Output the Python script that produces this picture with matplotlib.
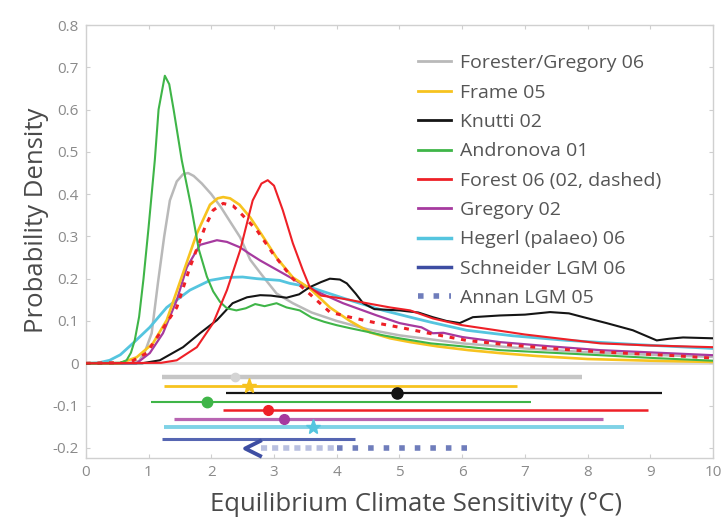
import matplotlib
matplotlib.use("Agg")
import matplotlib.pyplot as plt
from matplotlib.lines import Line2D
from matplotlib.ticker import FuncFormatter

plt.rcParams["font.family"] = ["Open Sans", "DejaVu Sans"]
plt.rcParams["axes.unicode_minus"] = False

# ---- PDF curves (climate sensitivity, probability density) ----
andronova_x = [0, 0.55, 0.65, 0.72, 0.78, 0.85, 0.92, 1.0, 1.05, 1.1, 1.16, 1.26, 1.33, 1.40, 1.53,
               1.68, 1.8, 1.93, 2.03, 2.14, 2.25, 2.4, 2.55, 2.7, 2.85, 3.04, 3.2, 3.41, 3.6, 3.8,
               4.0, 4.21, 4.5, 4.74, 5.0, 5.5, 6.0, 6.6, 7.4, 8.2, 9.1, 10]
andronova_y = [0, 0.001, 0.007, 0.025, 0.054, 0.11, 0.2, 0.32, 0.4, 0.48, 0.6, 0.68, 0.66, 0.6, 0.48,
               0.37, 0.27, 0.205, 0.17, 0.145, 0.13, 0.125, 0.13, 0.14, 0.135, 0.142, 0.132, 0.125, 0.108, 0.098,
               0.09, 0.083, 0.074, 0.066, 0.059, 0.047, 0.04, 0.031, 0.025, 0.019, 0.012, 0.006]

forster_x = [0, 0.7, 0.85, 0.95, 1.05, 1.15, 1.25, 1.34, 1.45, 1.55, 1.63, 1.72, 1.85, 2.0, 2.15,
             2.3, 2.46, 2.62, 2.8, 3.04, 3.3, 3.6, 4.0, 4.5, 5.0, 6.0, 7.0, 8.0, 9.0, 10]
forster_y = [0, 0.001, 0.005, 0.03, 0.071, 0.19, 0.3, 0.385, 0.43, 0.447, 0.45, 0.443, 0.425, 0.40, 0.37,
             0.335, 0.298, 0.245, 0.21, 0.165, 0.142, 0.12, 0.10, 0.08, 0.066, 0.047, 0.035, 0.026, 0.02, 0.015]

frame_x = [0, 0.54, 0.81, 1.07, 1.29, 1.55, 1.77, 1.98, 2.1, 2.19, 2.3, 2.45, 2.62, 2.8, 3.04,
           3.3, 3.57, 3.89, 4.21, 4.53, 4.85, 5.17, 5.6, 6.1, 6.6, 7.2, 8.0, 9.0, 10]
frame_y = [0, 0.0, 0.014, 0.047, 0.102, 0.213, 0.307, 0.375, 0.39, 0.393, 0.39, 0.375, 0.345, 0.305, 0.25,
           0.203, 0.177, 0.132, 0.10, 0.073, 0.059, 0.05, 0.04, 0.031, 0.024, 0.017, 0.01, 0.006, 0.003]

forest02_x = [0, 0.7, 0.97, 1.18, 1.45, 1.66, 1.9, 2.03, 2.19, 2.35, 2.5, 2.73, 2.98, 3.3, 3.68,
              3.89, 4.21, 4.64, 5.0, 5.5, 6.07, 6.7, 7.4, 8.3, 9.27, 10]
forest02_y = [0, 0.002, 0.024, 0.071, 0.132, 0.227, 0.322, 0.362, 0.378, 0.372, 0.35, 0.314, 0.26, 0.2, 0.149,
              0.121, 0.109, 0.095, 0.085, 0.07, 0.054, 0.044, 0.035, 0.026, 0.019, 0.012]

forest06_x = [0, 1.2, 1.45, 1.77, 2.03, 2.25, 2.46, 2.66, 2.8, 2.9, 3.0, 3.14, 3.3, 3.46, 3.57,
              3.75, 4.0, 4.2, 4.48, 4.85, 5.17, 5.53, 6.0, 7.0, 8.2, 9.0, 10]
forest06_y = [0, 0.001, 0.007, 0.038, 0.095, 0.173, 0.267, 0.385, 0.425, 0.433, 0.42, 0.362, 0.284, 0.22, 0.18,
              0.16, 0.155, 0.15, 0.142, 0.132, 0.125, 0.106, 0.09, 0.068, 0.047, 0.042, 0.038]

knutti_x = [0, 0.9, 1.18, 1.55, 1.82, 2.09, 2.34, 2.57, 2.78, 2.95, 3.2, 3.4, 3.57, 3.75, 3.89,
            4.05, 4.16, 4.3, 4.42, 4.6, 5.0, 5.3, 5.53, 5.75, 5.96, 6.17, 6.6, 7.0, 7.4, 7.7,
            7.93, 8.3, 8.72, 9.1, 9.3, 9.52, 10]
knutti_y = [0, 0.0, 0.007, 0.038, 0.071, 0.102, 0.142, 0.156, 0.161, 0.16, 0.155, 0.163, 0.18, 0.192, 0.2,
            0.198, 0.189, 0.165, 0.142, 0.128, 0.125, 0.12, 0.109, 0.1, 0.095, 0.109, 0.113, 0.115, 0.121, 0.118,
            0.109, 0.095, 0.078, 0.054, 0.058, 0.061, 0.059]

gregory_x = [0, 0.81, 1.02, 1.23, 1.45, 1.61, 1.82, 2.09, 2.25, 2.46, 2.62, 2.78, 3.14, 3.57, 4.1,
             4.64, 5.0, 5.17, 5.35, 5.53, 5.7, 6.0, 6.6, 7.4, 8.2, 9.1, 10]
gregory_y = [0, 0.0, 0.024, 0.071, 0.149, 0.227, 0.28, 0.291, 0.287, 0.274, 0.258, 0.243, 0.213, 0.177, 0.142,
             0.113, 0.095, 0.09, 0.085, 0.071, 0.072, 0.062, 0.05, 0.04, 0.031, 0.025, 0.019]

hegerl_x = [0, 0.2, 0.38, 0.55, 0.75, 1.02, 1.29, 1.66, 1.98, 2.25, 2.5, 2.73, 3.09, 3.25, 3.57,
            4.21, 4.74, 5.17, 5.5, 6.07, 6.8, 7.67, 8.8, 10]
hegerl_y = [0, 0.001, 0.007, 0.02, 0.047, 0.085, 0.132, 0.173, 0.196, 0.203, 0.204, 0.2, 0.196, 0.189, 0.18,
            0.149, 0.125, 0.109, 0.097, 0.078, 0.065, 0.054, 0.044, 0.035]

# ---- 5-95% ranges and best estimates ----
range_names = ["Forester/Gregory 06", "Frame 05", "Knutti 02", "Andronova 01", "Forest 06",
               "Gregory 02", "Hegerl (palaeo) 06", "Schneider LGM 06"]
range_lo = [1.21, 1.24, 2.23, 1.04, 2.19, 1.40, 1.24, 1.21]
range_hi = [7.91, 6.87, 9.19, 7.10, 8.96, 8.25, 8.58, 4.29]
range_best = [2.38, 2.60, 4.96, 1.93, 2.90, 3.16, 3.62, 2.66]
annan_lo = 2.8
annan_mid = 4.0
annan_hi = 6.2

legend_labels = ["Forester/Gregory 06", "Frame 05", "Knutti 02", "Andronova 01",
                 "Forest 06 (02, dashed)", "Gregory 02", "Hegerl (palaeo) 06",
                 "Schneider LGM 06", "Annan LGM 05"]

GRAY = "#b9b9b9"
YELLOW = "#f7c31f"
BLACK = "#151515"
GREEN = "#3fb548"
RED = "#ee2027"
PURPLE = "#a63a9f"
CYAN = "#55c5df"
BLUE = "#3d4da2"
ANNAN = "#6f7dbb"


def main():
    fig = plt.figure(figsize=(7.27, 5.21), dpi=100)
    ax = fig.add_axes([0.118, 0.121, 0.863, 0.831])

    ax.axhline(0, color="#d8d8d8", lw=2.0, zorder=1)

    ax.plot(forster_x, forster_y, color=GRAY, lw=1.8, zorder=2)
    ax.plot(hegerl_x, hegerl_y, color=CYAN, lw=2.0, zorder=3)
    ax.plot(gregory_x, gregory_y, color=PURPLE, lw=1.6, zorder=3)
    ax.plot(frame_x, frame_y, color=YELLOW, lw=1.9, zorder=3)
    ax.plot(forest02_x, forest02_y, color=RED, lw=2.2, ls=(0, (1.6, 2.2)), zorder=4)
    ax.plot(knutti_x, knutti_y, color=BLACK, lw=1.5, zorder=4)
    ax.plot(andronova_x, andronova_y, color=GREEN, lw=1.5, zorder=4)
    ax.plot(forest06_x, forest06_y, color=RED, lw=1.5, zorder=4)

    # range bars below zero
    row_y = [-0.033, -0.054, -0.071, -0.092, -0.111, -0.132, -0.151, -0.180]
    bar_col = ["#c6c6c6", YELLOW, BLACK, GREEN, RED, "#b865b2", "#7fd2e6", "#5666b2"]
    bar_lw = [3.2, 2.0, 1.6, 1.5, 1.8, 2.3, 2.8, 2.2]
    mk = ["o", "*", "o", "o", "o", "o", "*", None]
    mk_col = ["#d4d4d4", YELLOW, BLACK, GREEN, RED, PURPLE, CYAN, BLUE]
    mk_size = [6, 11, 8, 7.5, 7, 7, 11, 0]
    for i in range(len(range_lo)):
        ax.plot([range_lo[i], range_hi[i]], [row_y[i], row_y[i]], color=bar_col[i],
                lw=bar_lw[i], solid_capstyle="butt", zorder=5)
        if mk[i]:
            ax.plot(range_best[i], row_y[i], marker=mk[i], ms=mk_size[i], color=mk_col[i],
                    mec=mk_col[i], zorder=6)

    y_annan = -0.201
    ax.plot([annan_lo, annan_mid], [y_annan, y_annan], color="#b9c0e0", lw=4,
            ls=(0, (1.1, 0.9)), solid_capstyle="butt", zorder=5)
    ax.plot([annan_mid, annan_hi], [y_annan, y_annan], color=ANNAN, lw=4,
            ls=(0, (1.0, 1.8)), zorder=5)
    ax.plot(range_best[7], y_annan, marker=[(1, 1), (-1, 0), (1, -1)], ms=12,
            mfc="none", mec=BLUE, mew=2.8, zorder=6)

    ax.set_xlim(0, 10)
    ax.set_ylim(-0.224, 0.8)
    ax.set_xticks(range(0, 11))
    ax.set_yticks([-0.2, -0.1, 0, 0.1, 0.2, 0.3, 0.4, 0.5, 0.6, 0.7, 0.8])
    ax.yaxis.set_major_formatter(FuncFormatter(lambda v, p: f"{v:g}"))
    ax.tick_params(direction="in", length=3, width=0.8, color="#cfcfcf",
                   labelcolor="#8a8a8a", labelsize=11, top=True, right=True, pad=5)
    for s in ax.spines.values():
        s.set_color("#d0d0d0")
        s.set_linewidth(1.0)

    ax.set_xlabel("Equilibrium Climate Sensitivity (°C)", fontsize=18.5, color="#4a4a4a",
                  va="center")
    ax.xaxis.set_label_coords(0.526, -0.1085)
    ax.set_ylabel("Probability Density", fontsize=18.5, color="#4a4a4a", va="center")
    ax.yaxis.set_label_coords(-0.078, 0.55)

    handles = [
        Line2D([], [], color=GRAY, lw=2),
        Line2D([], [], color=YELLOW, lw=2),
        Line2D([], [], color=BLACK, lw=2),
        Line2D([], [], color=GREEN, lw=2),
        Line2D([], [], color=RED, lw=2),
        Line2D([], [], color=PURPLE, lw=2),
        Line2D([], [], color=CYAN, lw=2.5),
        Line2D([], [], color=BLUE, lw=2.5),
        Line2D([], [], color=ANNAN, lw=4, ls=(0, (1.0, 1.8))),
    ]
    leg = ax.legend(handles, legend_labels, loc="upper left", bbox_to_anchor=(0.514, 0.955),
                    frameon=False, fontsize=14, labelspacing=0.585, handlelength=1.7,
                    handletextpad=0.45, borderpad=0)
    for t in leg.get_texts():
        t.set_color("#555555")

    fig.savefig("out.png", dpi=100)
    plt.close(fig)


if __name__ == "__main__":
    main()
